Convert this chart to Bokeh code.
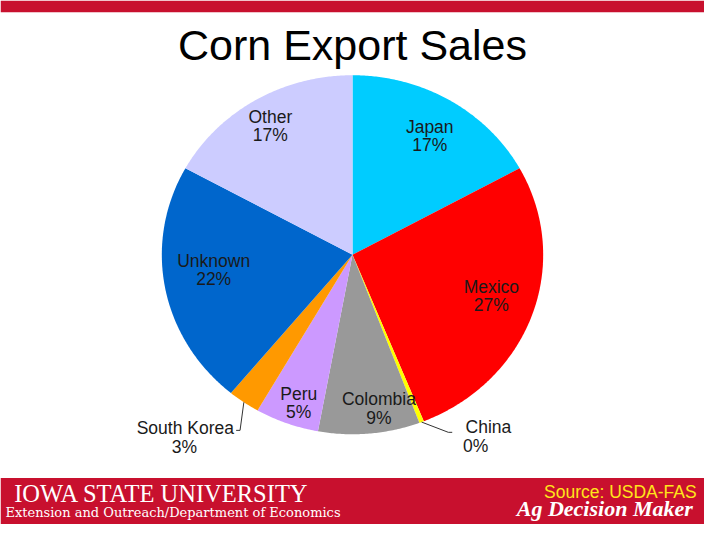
import numpy as np
from bokeh.plotting import figure
from bokeh.models import Range1d, ColumnDataSource
from bokeh.core.properties import value
from bokeh.embed import file_html
from bokeh.resources import INLINE

# ---- data ----
countries = ["Japan", "Mexico", "China", "Colombia", "Peru", "South Korea", "Unknown", "Other"]
shares = [17.0, 26.9, 0.4, 8.6, 5.4, 2.7, 22.0, 17.0]
pct_labels = ["17%", "27%", "0%", "9%", "5%", "3%", "22%", "17%"]
colors = ["#00CCFF", "#FF0000", "#FFFF00", "#999999", "#CC99FF", "#FF9900", "#0066CC", "#CCCCFF"]

# label block positions (style): name line centre; pct drawn one line below
name_x = [439, 502, 499, 387, 305, 189, 218, 276]
name_y = [130, 295, 440, 411, 405, 441, 268, 120]
pct_dx = [0, 0, -13, 0, 0, -1, 0, 0]
outside = [False, False, True, False, False, True, False, False]
leader_end_x = [None, None, 458, None, None, 245, None, None]
leader_end_y = [None, None, 445, None, None, 443, None, None]
leader_tick = [None, None, 4, None, None, -4, None, None]

# ---- geometry (reference pixel space 720x540 mapped onto the figure) ----
cx, cy, rx, ry = 360.0, 262.0, 195.0, 185.0
W, H = 704, 524
p = figure(width=W, height=H, output_backend="svg", toolbar_location=None,
           x_range=Range1d(0, 720), y_range=Range1d(540, 0),
           min_border=0, background_fill_color="white", border_fill_color="white")
p.axis.visible = False
p.grid.visible = False
p.outline_line_color = None

RED = "#C8102E"
# top bar
p.quad(left=[0], right=[720], top=[0], bottom=[12], fill_color=RED, line_color=None)

# pie slices as elliptical wedges computed from shares
total = sum(shares)
start = 90.0
xs, ys, mids = [], [], []
for s in shares:
    sweep = 360.0 * s / total
    end = start - sweep
    th = np.radians(np.linspace(start, end, max(8, int(sweep * 2))))
    xs.append([cx] + list(cx + rx * np.cos(th)))
    ys.append([cy] + list(cy - ry * np.sin(th)))
    mids.append((start + end) / 2.0)
    start = end
p.patches(xs=xs, ys=ys, fill_color=colors, line_color=None)

# leader lines for outside labels
for i, out in enumerate(outside):
    if out:
        m = np.radians(mids[i])
        x0 = cx + rx * np.cos(m)
        y0 = cy - ry * np.sin(m)
        x1, y1 = leader_end_x[i], leader_end_y[i]
        p.line([x0, x1, x1 + leader_tick[i]], [y0, y1, y1], line_color="#333333", line_width=1)

TXT = "#1a1a1a"
src = ColumnDataSource(dict(
    nx=name_x, ny=name_y, name=countries,
    px=[a + b for a, b in zip(name_x, pct_dx)], py=[y + 19 for y in name_y], pct=pct_labels))
p.text(x="nx", y="ny", text="name", source=src, text_align="center", text_baseline="middle",
       text_font=value("Liberation Sans"), text_font_size=value("17.5px"), text_color=TXT)
p.text(x="px", y="py", text="pct", source=src, text_align="center", text_baseline="middle",
       text_font=value("Liberation Sans"), text_font_size=value("17.5px"), text_color=TXT)

# title
p.text(x=[360], y=[46], text=["Corn Export Sales"], text_align="center", text_baseline="middle",
       text_font=value("Liberation Sans"), text_font_size=value("43px"), text_color="black")

# bottom banner
p.quad(left=[0], right=[720], top=[492], bottom=[540], fill_color=RED, line_color=None)
p.text(x=[14], y=[508], text=["IOWA STATE UNIVERSITY"], text_align="left", text_baseline="middle",
       text_font=value("Liberation Serif"), text_font_size=value("24.5px"), text_color="white")
p.text(x=[5], y=[528], text=["Extension and Outreach/Department of Economics"], text_align="left",
       text_baseline="middle", text_font=value("DejaVu Serif"), text_font_size=value("13px"),
       text_color="white")
p.text(x=[712], y=[507], text=["Source: USDA-FAS"], text_align="right", text_baseline="middle",
       text_font=value("Liberation Sans"), text_font_size=value("17.5px"), text_color="#FFE51A")
p.text(x=[708], y=[523], text=["Ag Decision Maker"], text_align="right", text_baseline="middle",
       text_font=value("Liberation Serif"), text_font_size=value("22px"), text_font_style="bold italic",
       text_color="white")

open("out.html", "w").write(file_html(p, INLINE))
